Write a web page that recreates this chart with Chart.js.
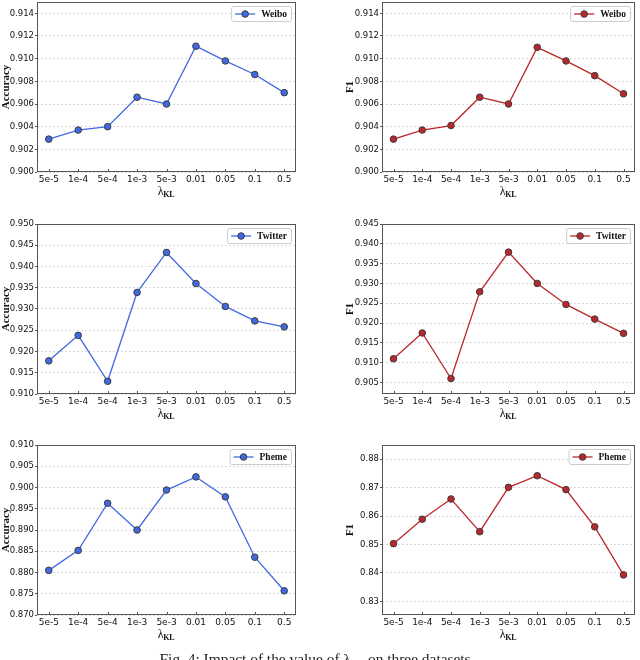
<!DOCTYPE html>
<html><head><meta charset="utf-8">
<script src="https://cdn.jsdelivr.net/npm/chart.js@4.4.0/dist/chart.umd.min.js"></script>
<style>
html,body{margin:0;padding:0;background:#fff;width:640px;height:660px;overflow:hidden;position:relative;}
canvas{position:absolute;}
#cap{position:absolute;left:0;top:651px;width:634px;text-align:center;font-family:"Liberation Serif",serif;font-size:15.4px;line-height:15px;color:#222;white-space:nowrap;}
#cap sub{font-size:10px;line-height:0;}
</style></head><body>
<canvas id="c1" width="320" height="220" style="left:0;top:-3px"></canvas>
<canvas id="c2" width="320" height="220" style="left:320px;top:-3px"></canvas>
<canvas id="c3" width="320" height="220" style="left:0;top:219px"></canvas>
<canvas id="c4" width="320" height="220" style="left:320px;top:219px"></canvas>
<canvas id="c5" width="320" height="220" style="left:0;top:440px"></canvas>
<canvas id="c6" width="320" height="220" style="left:320px;top:440px"></canvas>
<div id="cap">Fig. 4: Impact of the value of λ<sub>KL</sub> on three datasets.</div>
<script>
// ---- data ----
const categories = ['5e-5','1e-4','5e-4','1e-3','5e-3','0.01','0.05','0.1','0.5'];
const weiboAcc   = [0.9029,0.9037,0.9040,0.9066,0.9060,0.9111,0.9098,0.9086,0.9070];
const weiboF1    = [0.9029,0.9037,0.9041,0.9066,0.9060,0.9110,0.9098,0.9085,0.9069];
const twitterAcc = [0.9178,0.9238,0.9130,0.9339,0.9433,0.9360,0.9306,0.9272,0.9258];
const twitterF1  = [0.9110,0.9175,0.9060,0.9279,0.9379,0.9300,0.9247,0.9210,0.9174];
const phemeAcc   = [0.8805,0.8852,0.8963,0.8900,0.8994,0.9025,0.8978,0.8836,0.8757];
const phemeF1    = [0.8503,0.8589,0.8660,0.8545,0.8701,0.8742,0.8693,0.8562,0.8393];

const weiboTicks      = [0.900,0.902,0.904,0.906,0.908,0.910,0.912,0.914];
const weiboTickLabels = ['0.900','0.902','0.904','0.906','0.908','0.910','0.912','0.914'];
const twAccTicks      = [0.910,0.915,0.920,0.925,0.930,0.935,0.940,0.945,0.950];
const twAccTickLabels = ['0.910','0.915','0.920','0.925','0.930','0.935','0.940','0.945','0.950'];
const twF1Ticks       = [0.905,0.910,0.915,0.920,0.925,0.930,0.935,0.940,0.945];
const twF1TickLabels  = ['0.905','0.910','0.915','0.920','0.925','0.930','0.935','0.940','0.945'];
const phAccTicks      = [0.870,0.875,0.880,0.885,0.890,0.895,0.900,0.905,0.910];
const phAccTickLabels = ['0.870','0.875','0.880','0.885','0.890','0.895','0.900','0.905','0.910'];
const phF1Ticks       = [0.83,0.84,0.85,0.86,0.87,0.88];
const phF1TickLabels  = ['0.83','0.84','0.85','0.86','0.87','0.88'];

const BLUE = '#4169E1';
const RED = '#BA2629';
const EDGE = '#3c3c3c';

const decor = {
  id: 'decor',
  afterDatasetsDraw(chart, args, o) {
    const ctx = chart.ctx, a = chart.chartArea, xs = chart.scales.x;
    ctx.save();
    // axes frame
    ctx.strokeStyle = '#555'; ctx.lineWidth = 1;
    ctx.strokeRect(a.left + 0.5, a.top + 0.5, a.right - a.left - 1, a.bottom - a.top - 1);
    // inward x ticks
    ctx.beginPath();
    categories.forEach((c, i) => {
      const px = Math.round(xs.getPixelForValue(i)) + 0.5;
      ctx.moveTo(px, a.bottom); ctx.lineTo(px, a.bottom - 3);
    });
    ctx.stroke();
    // legend box
    ctx.font = 'bold 9.5px "Liberation Serif"';
    const tw = ctx.measureText(o.name).width;
    const w = 4 + 20 + 6 + tw + 4, h = 15;
    const bx = a.right - 5 - w, by = a.top + 4;
    ctx.beginPath();
    ctx.roundRect(bx + 0.5, by + 0.5, w, h, 2);
    ctx.fillStyle = 'rgba(255,255,255,0.85)'; ctx.fill();
    ctx.strokeStyle = '#cccccc'; ctx.stroke();
    const my = by + h / 2 + 0.5;
    ctx.beginPath(); ctx.moveTo(bx + 4, my); ctx.lineTo(bx + 24, my);
    ctx.strokeStyle = o.color; ctx.lineWidth = 1.3; ctx.stroke();
    ctx.beginPath(); ctx.arc(bx + 14, my, 3.3, 0, Math.PI * 2);
    ctx.fillStyle = o.color; ctx.fill(); ctx.lineWidth = 1; ctx.strokeStyle = EDGE; ctx.stroke();
    ctx.fillStyle = '#111'; ctx.textBaseline = 'middle'; ctx.textAlign = 'left';
    ctx.fillText(o.name, bx + 30, my + 0.5);
    // x-axis title: lambda with subscript KL
    ctx.textBaseline = 'alphabetic';
    ctx.font = '12px "Liberation Serif"';
    const lw = ctx.measureText('λ').width;
    ctx.font = 'bold 8px "Liberation Serif"';
    const kw = ctx.measureText('KL').width;
    const sx = (a.left + a.right) / 2 - (lw + kw) / 2;
    ctx.fillStyle = '#111';
    ctx.font = '12px "Liberation Serif"';
    ctx.fillText('λ', sx, a.bottom + 23);
    ctx.font = 'bold 8px "Liberation Serif"';
    ctx.fillText('KL', sx + lw - 0.5, a.bottom + 25);
    ctx.restore();
  }
};
Chart.register(decor);

function makeChart(id, col, values, color, name, yTicks, yLabels, yMin, yMax, yTitle) {
  const isLeft = col === 0;
  new Chart(document.getElementById(id), {
    type: 'line',
    data: {
      datasets: [{
        label: name,
        data: values.map((v, i) => ({ x: i, y: v })),
        borderColor: color, backgroundColor: color, borderWidth: 1.3,
        pointRadius: 3.3, pointBorderWidth: 1, pointBorderColor: EDGE,
        pointBackgroundColor: color, tension: 0
      }]
    },
    options: {
      responsive: false, animation: false, devicePixelRatio: 1,
      layout: { padding: { top: 2, left: 0, right: isLeft ? 24 : 2, bottom: 15 } },
      plugins: { legend: { display: false }, tooltip: { enabled: false }, decor: { name: name, color: color } },
      scales: {
        x: {
          type: 'linear', min: -0.4, max: 8.4,
          grid: { display: false, drawTicks: false, tickLength: 0 }, border: { display: false },
          afterBuildTicks: s => { s.ticks = categories.map((c, i) => ({ value: i })); },
          ticks: { callback: v => categories[v], autoSkip: false, maxRotation: 0, padding: 2,
                   color: '#111', font: { family: 'DejaVu Sans', size: 9 } },
          afterFit: s => { s.height = 30; s.paddingLeft = 0; s.paddingRight = 0; }
        },
        y: {
          min: yMin, max: yMax,
          afterBuildTicks: s => { s.ticks = yTicks.map(v => ({ value: v })); },
          ticks: { callback: (v, i) => yLabels[i], padding: 1, color: '#111',
                   font: { family: 'DejaVu Sans', size: 8.5 } },
          grid: { color: '#d2d2d2', lineWidth: 0.8, drawTicks: true, tickLength: 2,
                  tickColor: '#555', tickWidth: 1 },
          border: { display: false, dash: [2, 2] },
          title: { display: true, text: yTitle, color: '#111',
                   font: { family: 'Liberation Serif', weight: 'bold', size: 11, lineHeight: 1 },
                   padding: { top: isLeft ? 0.5 : 24.5, bottom: 0 } },
          afterFit: s => { s.width = isLeft ? 37 : 62; s.paddingTop = 0; s.paddingBottom = 0; }
        }
      }
    }
  });
}

makeChart('c1', 0, weiboAcc, BLUE, 'Weibo', weiboTicks, weiboTickLabels, 0.900, 0.915, 'Accuracy');
makeChart('c2', 1, weiboF1, RED, 'Weibo', weiboTicks, weiboTickLabels, 0.900, 0.915, 'F1');
makeChart('c3', 0, twitterAcc, BLUE, 'Twitter', twAccTicks, twAccTickLabels, 0.910, 0.950, 'Accuracy');
makeChart('c4', 1, twitterF1, RED, 'Twitter', twF1Ticks, twF1TickLabels, 0.9021, 0.945, 'F1');
makeChart('c5', 0, phemeAcc, BLUE, 'Pheme', phAccTicks, phAccTickLabels, 0.870, 0.910, 'Accuracy');
makeChart('c6', 1, phemeF1, RED, 'Pheme', phF1Ticks, phF1TickLabels, 0.8252, 0.8850, 'F1');
</script>
</body></html>
